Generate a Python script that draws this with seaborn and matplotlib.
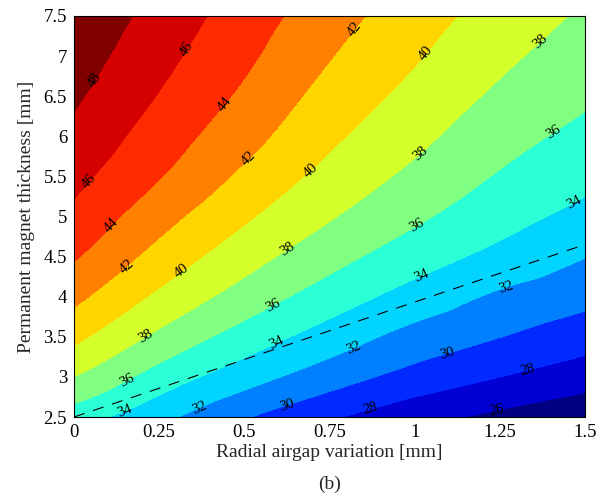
import numpy as np
import seaborn as sns
import matplotlib
matplotlib.use('Agg')
import matplotlib.pyplot as plt
import matplotlib.tri as mtri

# grid: radial airgap variation (columns), PM thickness (rows)
airgap = [0, 0.25, 0.5, 0.75, 1.0, 1.25, 1.5]
pm_thick = [2.5, 3.0, 3.5, 4.0, 4.5, 5.0, 5.5, 6.0, 6.5, 7.0, 7.5]
torque = [
    [35.0, 32.56, 30.18, 28.29, 26.67, 25.55, 24.57],
    [38.0, 35.16, 32.86, 30.93, 29.27, 28.0, 26.89],
    [40.5, 37.55, 35.14, 33.10, 31.28, 30.03, 28.89],
    [42.5, 39.6, 37.15, 35.04, 33.22, 31.67, 30.57],
    [44.2, 41.29, 38.82, 36.72, 34.92, 33.43, 32.05],
    [45.5, 42.75, 40.29, 38.17, 36.35, 34.74, 33.42],
    [46.56, 44.1, 41.6, 39.36, 37.53, 35.83, 34.54],
    [47.5, 45.05, 42.72, 40.39, 38.53, 36.75, 35.46],
    [48.3, 45.9, 43.64, 41.28, 39.40, 37.64, 36.3],
    [49.0, 46.62, 44.4, 42.1, 40.2, 38.43, 37.01],
    [49.7, 47.25, 45.04, 42.85, 40.89, 39.17, 37.7],
]
levels = [26, 28, 30, 32, 34, 36, 38, 40, 42, 44, 46, 48]

# dashed limit line
limit_x = [0, 1.5]
limit_y = [2.5, 4.65]

xticks = [0, 0.25, 0.5, 0.75, 1.0, 1.25, 1.5]
xtick_labels = ['0', '0.25', '0.5', '0.75', '1', '1.25', '1.5']
yticks = [2.5, 3, 3.5, 4, 4.5, 5, 5.5, 6, 6.5, 7, 7.5]
ytick_labels = ['2.5', '3', '3.5', '4', '4.5', '5', '5.5', '6', '6.5', '7', '7.5']

# where the contour labels sit
label_pos = [
    (0.062, 6.70),
    (0.047, 5.43), (0.335, 7.08),
    (0.114, 4.87), (0.449, 6.37),
    (0.156, 4.37), (0.517, 5.70), (0.825, 7.33),
    (0.32, 4.30), (0.70, 5.55), (1.04, 7.01),
    (0.21, 3.50), (0.63, 4.56), (1.02, 5.77), (1.37, 7.18),
    (0.156, 2.96), (0.587, 3.87), (1.01, 4.87), (1.41, 6.04),
    (0.147, 2.59), (0.596, 3.40), (1.02, 4.25), (1.465, 5.21),
    (0.367, 2.62), (0.82, 3.37), (1.27, 4.11),
    (0.625, 2.65), (1.095, 3.29),
    (0.87, 2.59), (1.33, 3.12),
    (1.24, 2.59),
]


def matlab_jet(t):
    # MATLAB style jet (slightly different ramps than matplotlib's)
    r = np.interp(t, [0, 0.375, 0.625, 0.875, 1], [0, 0, 1, 1, 0.5])
    g = np.interp(t, [0, 0.125, 0.375, 0.625, 0.875, 1], [0, 0, 1, 1, 0, 0])
    b = np.interp(t, [0, 0.125, 0.375, 0.625, 1], [0.5, 1, 1, 0, 0])
    return np.column_stack([r, g, b])


sns.set_style('ticks')
plt.rcParams['font.family'] = ['Liberation Serif', 'DejaVu Serif']

fig = plt.figure(figsize=(6.07, 5.04), dpi=100)
ax = fig.add_axes([74 / 607, 1 - 417 / 504, 511 / 607, 401 / 504])

# triangulate the read grid and let matplotlib smooth it (cubic refine)
gx, gy = np.meshgrid(airgap, pm_thick)
Z = np.array(torque)
tri = mtri.Triangulation(gx.ravel(), gy.ravel())
refiner = mtri.UniformTriRefiner(tri)
interp = mtri.CubicTriInterpolator(tri, Z.ravel(), kind='geom')
tri_f, z_f = refiner.refine_field(Z.ravel(), triinterpolator=interp, subdiv=4)

bounds = [Z.min() - 2] + levels + [Z.max() + 2]
band_colors = matlab_jet(np.linspace(0, 1, len(bounds) - 1))
ax.tricontourf(tri_f, z_f, levels=bounds, colors=band_colors)
cs = ax.tricontour(tri_f, z_f, levels=levels, colors='k', linewidths=0)
ax.clabel(cs, levels, manual=label_pos, inline=False, fontsize=10.5,
          colors='k', fmt='%d')

sns.lineplot(x=limit_x, y=limit_y, ax=ax, color='k', linewidth=0.8,
             linestyle=(0, (10, 8)))

ax.set_xlim(0, 1.5)
ax.set_ylim(2.5, 7.5)
ax.set_xticks(xticks)
ax.set_xticklabels(xtick_labels)
ax.set_yticks(yticks)
ax.set_yticklabels(ytick_labels)
ax.tick_params(direction='in', top=True, right=True, length=4, width=0.6,
               labelsize=13.5, colors='k', pad=5)
for s in ax.spines.values():
    s.set_visible(True)
    s.set_color('k')
    s.set_linewidth(0.8)

ax.set_xlabel('Radial airgap variation [mm]', fontsize=14, labelpad=2)
ax.set_ylabel('Permanent magnet thickness [mm]', fontsize=14, labelpad=6)
fig.text(329.5 / 607, 1 - 484 / 504, '(b)', fontsize=14, ha='center', va='center')

fig.savefig('out.png', dpi=100)
